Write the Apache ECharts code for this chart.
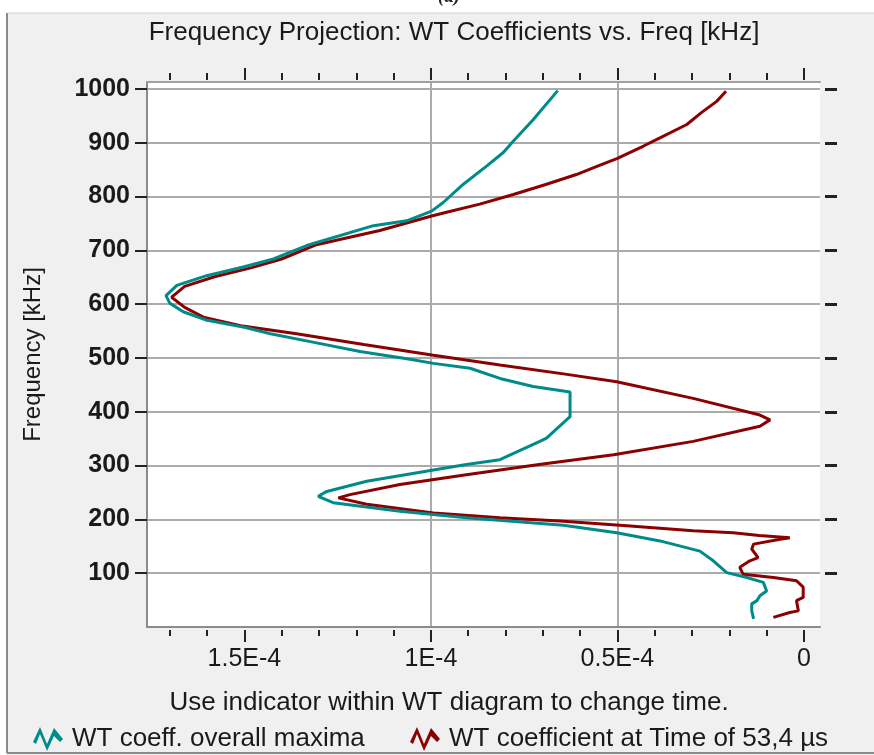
<!DOCTYPE html>
<html>
<head>
<meta charset="utf-8">
<title>Frequency Projection</title>
<script src="https://cdn.jsdelivr.net/npm/echarts@6/dist/echarts.min.js"></script>
<style>
  html, body { margin: 0; padding: 0; background: #f0f0f0; }
  #chart { width: 874px; height: 755px; }
</style>
</head>
<body>
<div id="chart"></div>
<script>
// WT coeff. overall maxima (teal): frequency [kHz] / coefficient
const maxFreq = [15, 30, 43, 49, 58, 67, 83, 92, 101, 123, 141, 160, 175, 189, 203, 215, 231, 243, 252, 271,
  292, 302, 311, 345, 351, 391, 437, 447, 462, 481, 490, 498, 512, 530, 545, 557, 570, 586, 602, 616,
  635, 653, 669, 684, 709, 746, 755, 773, 789, 823, 857, 882, 906, 943, 997];
const maxCoef = [1.35e-5, 1.40e-5, 1.40e-5, 1.26e-5, 1.18e-5, 1.00e-5, 1.09e-5, 1.53e-5, 2.07e-5, 2.43e-5,
  2.79e-5, 3.86e-5, 5.02e-5, 6.45e-5, 9.05e-5, 10.83e-5, 12.62e-5, 13.02e-5, 12.79e-5, 11.72e-5,
  9.93e-5, 9.05e-5, 8.15e-5, 7.08e-5, 6.90e-5, 6.27e-5, 6.27e-5, 7.26e-5, 8.15e-5, 8.95e-5,
  9.93e-5, 10.6e-5, 11.9e-5, 13.2e-5, 14.3e-5, 15.0e-5, 16.0e-5, 16.64e-5, 17.0e-5, 17.1e-5,
  16.81e-5, 16.01e-5, 15.03e-5, 14.22e-5, 13.33e-5, 11.54e-5, 10.65e-5, 9.98e-5, 9.67e-5, 9.13e-5,
  8.50e-5, 8.06e-5, 7.75e-5, 7.26e-5, 6.60e-5];

// WT coefficient at Time of 53,4 µs (dark red)
const timeFreq = [18, 27, 30, 49, 55, 74, 86, 92, 98, 111, 123, 129, 145, 154, 163, 166, 170, 175, 179, 188,
  197, 203, 212, 228, 240, 246, 265, 283, 302, 320, 345, 373, 385, 394, 425, 456, 470, 487, 505, 525,
  545, 560, 576, 594, 613, 633, 651, 668, 684, 710, 737, 764, 771, 786, 804, 823, 841, 856, 871, 894,
  909, 934, 956, 977, 996];
const timeCoef = [0.82e-5, 0.38e-5, 0.15e-5, 0.20e-5, 0.02e-5, 0.02e-5, 0.20e-5, 0.82e-5, 1.63e-5, 1.72e-5,
  1.45e-5, 1.23e-5, 1.40e-5, 1.35e-5, 0.64e-5, 0.38e-5, 1.2e-5, 1.90e-5, 2.97e-5, 4.75e-5,
  6.54e-5, 8.15e-5, 9.93e-5, 11.72e-5, 12.48e-5, 12.17e-5, 10.83e-5, 9.05e-5, 7.1e-5, 5.1e-5,
  2.97e-5, 1.18e-5, 0.91e-5, 1.18e-5, 2.97e-5, 5.02e-5, 6.4e-5, 8.15e-5, 9.93e-5, 11.8e-5,
  13.6e-5, 15.1e-5, 16.1e-5, 16.6e-5, 16.95e-5, 16.6e-5, 15.8e-5, 14.8e-5, 14.0e-5, 13.1e-5,
  11.37e-5, 9.98e-5, 9.58e-5, 8.69e-5, 7.79e-5, 6.90e-5, 6.1e-5, 5.55e-5, 5.0e-5, 4.3e-5,
  3.86e-5, 3.14e-5, 2.75e-5, 2.34e-5, 2.09e-5];

// axis ticks and labels
const xMajor = [0, 5e-5, 1e-4, 1.5e-4];
const xMajorLabels = ['0', '0.5E-4', '1E-4', '1.5E-4'];
const xMinor = [0, 1e-5, 2e-5, 3e-5, 4e-5, 5e-5, 6e-5, 7e-5, 8e-5, 9e-5,
  10e-5, 11e-5, 12e-5, 13e-5, 14e-5, 15e-5, 16e-5, 17e-5];
const yTicks = [100, 200, 300, 400, 500, 600, 700, 800, 900, 1000];

const seriesNames = ['WT coeff. overall maxima', 'WT coefficient at Time of 53,4 µs'];

const FONT = '"Liberation Sans", Arial, sans-serif';
const X_MIN = -0.43e-5;
const X_MAX = 17.61e-5;
const waveIcon = 'path://M0,15 L7,0 L14,17 L21,1 L30,12 L27,15 L21,9 L14,24 L7,7 L3,17 Z';

const chart = echarts.init(document.getElementById('chart'));

const baseX = (extra) => Object.assign({
  type: 'value',
  inverse: true,
  min: X_MIN,
  max: X_MAX,
  axisLine: { show: false, onZero: false },
  axisTick: { show: false },
  axisLabel: { show: false },
  splitLine: { show: false },
}, extra);

const legendBase = {
  top: 721,
  itemWidth: 30,
  itemHeight: 24,
  itemGap: 10,
  textStyle: { fontFamily: FONT, fontSize: 26, color: '#1a1a1a', padding: [0, 0, 0, 4] },
};

chart.setOption({
  animation: false,
  backgroundColor: '#f0f0f0',
  title: {
    text: 'Frequency Projection: WT Coefficients vs. Freq [kHz]',
    left: 449,
    top: 15,
    textAlign: 'center',
    textStyle: { fontFamily: FONT, fontSize: 26, fontWeight: 'normal', color: '#1a1a1a' },
  },
  legend: [
    Object.assign({ left: 28, data: [{ name: seriesNames[0], icon: waveIcon }] }, legendBase),
    Object.assign({ left: 405, data: [{ name: seriesNames[1], icon: waveIcon }] }, legendBase),
  ],
  graphic: [
    { type: 'rect', shape: { x: 0, y: 0, width: 874, height: 13 }, style: { fill: '#fff' }, silent: true },
    { type: 'rect', shape: { x: 0, y: 0, width: 6, height: 755 }, style: { fill: '#fff' }, silent: true },
    { type: 'line', shape: { x1: 7, y1: 13, x2: 7, y2: 753 }, style: { stroke: '#8a8a8a', lineWidth: 2 }, silent: true },
    { type: 'line', shape: { x1: 7, y1: 753, x2: 874, y2: 753 }, style: { stroke: '#8a8a8a', lineWidth: 2 }, silent: true },
    { type: 'line', shape: { x1: 7, y1: 13, x2: 874, y2: 13 }, style: { stroke: '#d0d0d0', lineWidth: 1 }, silent: true },
    {
      type: 'text', x: 449, y: 7,
      style: {
        text: '(a)', font: 'italic bold 19px "Liberation Serif", serif', fill: '#222',
        align: 'center', verticalAlign: 'bottom',
      },
      silent: true,
    },
    {
      type: 'text', x: 449, y: 703,
      style: {
        text: 'Use indicator within WT diagram to change time.',
        font: '26px "Liberation Sans", Arial, sans-serif',
        fill: '#1a1a1a',
        align: 'center',
        verticalAlign: 'middle',
      },
      silent: true,
    },
  ],
  grid: {
    left: 147,
    right: 54,
    top: 82,
    bottom: 128,
    show: true,
    backgroundColor: '#fff',
    borderWidth: 0,
  },
  xAxis: [
    // bottom, major ticks + labels + vertical grid lines
    baseX({
      position: 'bottom',
      offset: 3,
      axisTick: { show: true, customValues: xMajor, length: 12, lineStyle: { color: '#222', width: 2 } },
      axisLabel: {
        show: true,
        customValues: xMajor,
        margin: 17,
        fontFamily: FONT,
        fontSize: 25,
        color: '#1a1a1a',
        formatter: (v) => {
          const i = xMajor.findIndex((m) => Math.abs(m - v) < 1e-9);
          return i >= 0 ? xMajorLabels[i] : '';
        },
      },
      splitLine: {
        show: true,
        showMinLine: false,
        showMaxLine: false,
        lineStyle: { color: '#ababab', width: 2 },
      },
    }),
    // bottom minor ticks
    baseX({
      position: 'bottom',
      offset: 3,
      axisTick: { show: true, customValues: xMinor, length: 6, lineStyle: { color: '#222', width: 2 } },
    }),
    // top major ticks
    baseX({
      position: 'top',
      offset: 2,
      axisTick: { show: true, customValues: xMajor, length: 12, lineStyle: { color: '#222', width: 2 } },
    }),
    // top minor ticks
    baseX({
      position: 'top',
      offset: 2,
      axisTick: { show: true, customValues: xMinor, length: 7, lineStyle: { color: '#222', width: 2 } },
    }),
    // plot frame lines (bottom / top)
    baseX({ position: 'bottom', axisLine: { show: true, onZero: false, lineStyle: { color: '#8c8c8c', width: 2 } } }),
    baseX({ position: 'top', axisLine: { show: true, onZero: false, lineStyle: { color: '#a0a0a0', width: 2 } } }),
  ],
  yAxis: [
    {
      type: 'value',
      min: 0,
      max: 1013,
      name: 'Frequency [kHz]',
      nameLocation: 'middle',
      nameGap: 102,
      nameRotate: 90,
      nameTextStyle: { fontFamily: FONT, fontSize: 24, color: '#1a1a1a' },
      axisLine: { show: true, onZero: false, lineStyle: { color: '#8c8c8c', width: 2 } },
      axisTick: { show: true, customValues: yTicks, length: 12, lineStyle: { color: '#222', width: 2 } },
      axisLabel: {
        customValues: yTicks,
        margin: 17,
        fontFamily: FONT,
        fontSize: 25,
        fontWeight: 'bold',
        color: '#1a1a1a',
        formatter: (v) => String(v),
      },
      splitLine: { show: true, lineStyle: { color: '#ababab', width: 2 } },
    },
    {
      type: 'value',
      position: 'right',
      min: 0,
      max: 1013,
      offset: 5,
      axisLine: { show: false, onZero: false },
      axisTick: { show: true, customValues: yTicks, length: 12, lineStyle: { color: '#222', width: 3 } },
      axisLabel: { show: false },
      splitLine: { show: false },
    },
  ],
  series: [
    {
      name: seriesNames[1],
      type: 'line',
      xAxisIndex: 0,
      yAxisIndex: 0,
      showSymbol: false,
      color: '#8b0000',
      lineStyle: { width: 3, color: '#8b0000' },
      z: 3,
      data: timeCoef.map((c, i) => [c, timeFreq[i]]),
    },
    {
      name: seriesNames[0],
      type: 'line',
      xAxisIndex: 0,
      yAxisIndex: 0,
      showSymbol: false,
      color: '#008b8b',
      lineStyle: { width: 3, color: '#008b8b' },
      z: 4,
      data: maxCoef.map((c, i) => [c, maxFreq[i]]),
    },
  ],
});
</script>
</body>
</html>
